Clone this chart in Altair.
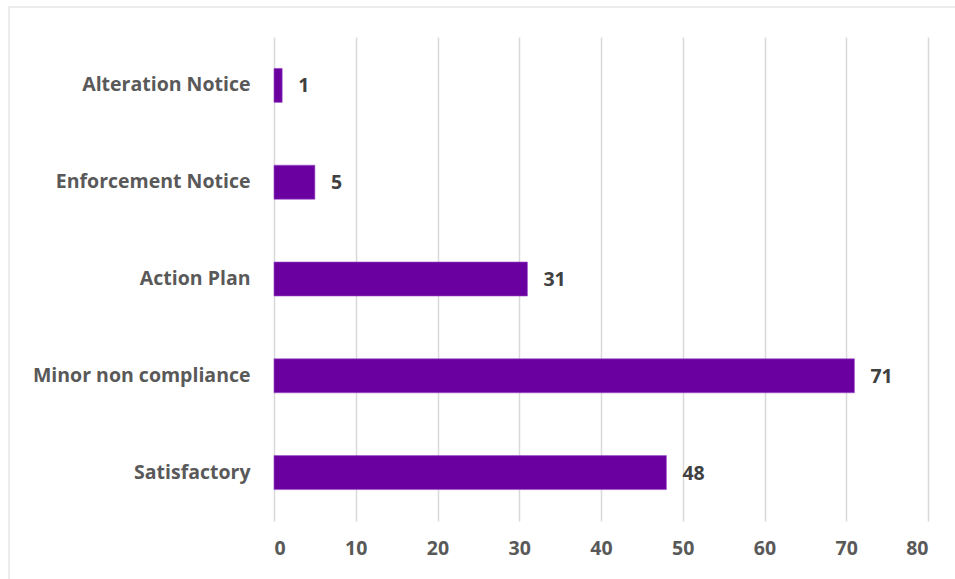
import altair as alt
import pandas as pd

categories = ["Alteration Notice", "Enforcement Notice", "Action Plan", "Minor non compliance", "Satisfactory"]
values = [1, 5, 31, 71, 48]
x_ticks = [0, 10, 20, 30, 40, 50, 60, 70, 80]

df = pd.DataFrame({"category": categories, "value": values})

FONT = "Open Sans"
FS = 19.5
W, H = 654, 484

base = alt.Chart(df)

y_enc = alt.Y("category:N", sort=categories, title=None,
              scale=alt.Scale(paddingInner=0.0, paddingOuter=0.0),
              axis=alt.Axis(labelFont=FONT, labelFontSize=FS, labelFontWeight="bold",
                            labelColor="#595959", ticks=False, domain=False,
                            labelPadding=24, grid=False, labelLimit=400))
x_enc = alt.X("value:Q", title=None,
              scale=alt.Scale(domain=[0, 80], nice=False),
              axis=alt.Axis(values=x_ticks, labelFont=FONT, labelFontSize=FS,
                            labelFontWeight="bold", labelColor="#595959",
                            ticks=False, domain=False, grid=True,
                            gridColor="#d9d9d9", gridWidth=1.5,
                            labelPadding=18))

bars = base.mark_bar(color="#6B00A0", size=34, stroke="#9B4FC8", strokeWidth=0.6).encode(
    x=x_enc, y=y_enc
)

labels = base.mark_text(align="left", baseline="middle", dx=16, dy=1,
                        font=FONT, fontSize=FS, fontWeight="bold",
                        color="#404040").encode(
    x=x_enc, y=y_enc, text="value:Q"
)

frame = alt.Chart(pd.DataFrame({"a": [0]})).mark_rect(
    fill="transparent", stroke="#e6e6e6", strokeWidth=1.5
).encode(
    x=alt.value(-265), x2=alt.value(700), y=alt.value(-30), y2=alt.value(580)
)

chart = alt.layer(bars, labels, frame).properties(
    width=W, height=H,
    background="white",
    padding={"left": 274, "top": 37, "right": 27, "bottom": 58},
    autosize=alt.AutoSizeParams(type="none"),
).configure_view(strokeWidth=0, stroke="transparent")

chart.save("out.html", embed_options={"renderer": "svg", "actions": False})
